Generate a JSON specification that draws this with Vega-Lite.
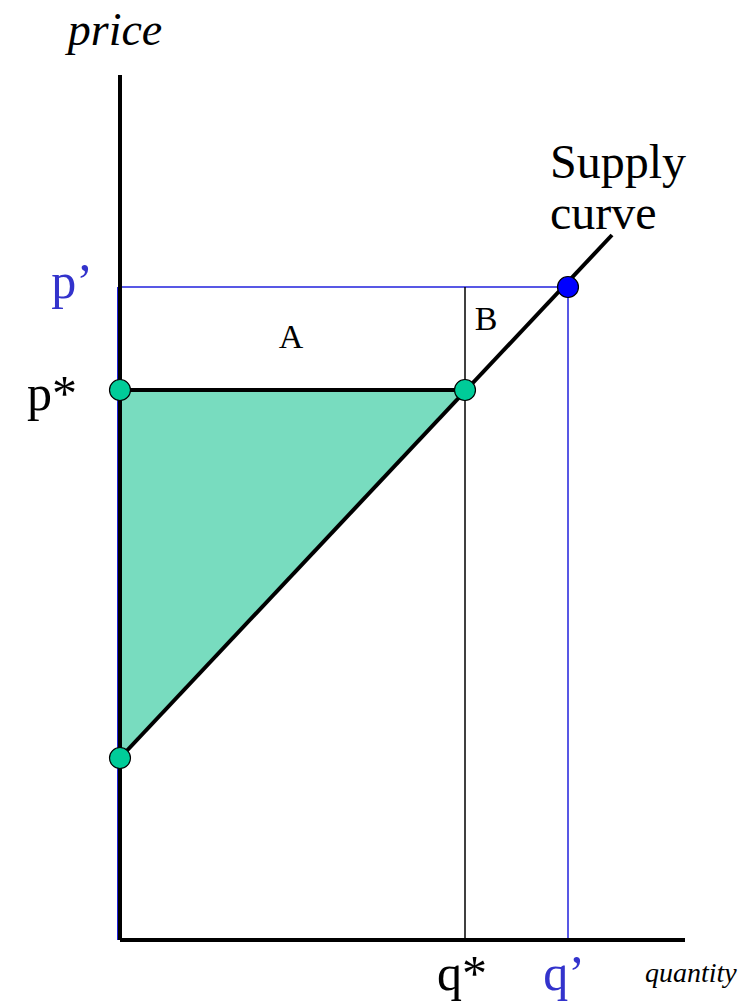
{
  "$schema": "https://vega.github.io/schema/vega-lite/v6.json",
  "autosize": "none",
  "padding": {"left": 120, "top": 75, "right": 70, "bottom": 62},
  "width": 565,
  "height": 865,
  "background": "white",
  "config": {"view": {"stroke": null}},
  "datasets": {
    "triangle": [
      {"q": 0, "top": 110, "bottom": 36.4},
      {"q": 69, "top": 110, "bottom": 110}
    ],
    "blue_lines": [
      {"q": 0, "p": 130.6, "q2": 89.6, "p2": 130.6},
      {"q": 89.6, "p": 130.6, "q2": 89.6, "p2": 0},
      {"q": -0.45, "p": 130.6, "q2": -0.45, "p2": 0}
    ],
    "thin_lines": [
      {"q": 69, "p": 130.6, "q2": 69, "p2": 0}
    ],
    "thick_lines": [
      {"q": 0, "p": 0, "q2": 0, "p2": 173},
      {"q": 0, "p": 0, "q2": 113, "p2": 0},
      {"q": 0, "p": 110, "q2": 69, "p2": 110},
      {"q": 0, "p": 36.4, "q2": 98.4, "p2": 141}
    ],
    "dots": [
      {"q": 0, "p": 110, "type": "eq"},
      {"q": 69, "p": 110, "type": "eq"},
      {"q": 0, "p": 36.4, "type": "eq"},
      {"q": 89.6, "p": 130.6, "type": "new"}
    ],
    "labels_left": [
      {"label": "Supply", "q": 86, "p": 152.4},
      {"label": "curve", "q": 86, "p": 142.2}
    ],
    "labels_center": [
      {"label": "p’", "q": -9.6, "p": 128.4, "tone": "blue"},
      {"label": "p*", "q": -13.6, "p": 106, "tone": "black"},
      {"label": "q*", "q": 68.4, "p": -10, "tone": "black"},
      {"label": "q’", "q": 88.8, "p": -10, "tone": "blue"}
    ],
    "regions": [
      {"label": "A", "q": 34.2, "p": 118.4},
      {"label": "B", "q": 73.2, "p": 122}
    ],
    "axis_price": [{"label": "price", "q": -1, "p": 179}],
    "axis_quantity": [{"label": "quantity", "q": 105, "p": -8.4}]
  },
  "layer": [
    {
      "data": {"name": "triangle"},
      "mark": {"type": "area", "fill": "#78dcbf", "opacity": 1},
      "encoding": {
        "x": {"field": "q", "type": "quantitative", "scale": {"domain": [0, 113], "nice": false, "zero": false}, "axis": null},
        "y": {"field": "top", "type": "quantitative", "scale": {"domain": [0, 173], "nice": false, "zero": false}, "axis": null},
        "y2": {"field": "bottom"}
      }
    },
    {
      "data": {"name": "blue_lines"},
      "mark": {"type": "rule", "stroke": "#2020dd", "strokeWidth": 1.5},
      "encoding": {
        "x": {"field": "q", "type": "quantitative"},
        "y": {"field": "p", "type": "quantitative"},
        "x2": {"field": "q2"},
        "y2": {"field": "p2"}
      }
    },
    {
      "data": {"name": "thin_lines"},
      "mark": {"type": "rule", "stroke": "black", "strokeWidth": 1.5},
      "encoding": {
        "x": {"field": "q", "type": "quantitative"},
        "y": {"field": "p", "type": "quantitative"},
        "x2": {"field": "q2"},
        "y2": {"field": "p2"}
      }
    },
    {
      "data": {"name": "thick_lines"},
      "mark": {"type": "rule", "stroke": "black", "strokeWidth": 4},
      "encoding": {
        "x": {"field": "q", "type": "quantitative"},
        "y": {"field": "p", "type": "quantitative"},
        "x2": {"field": "q2"},
        "y2": {"field": "p2"}
      }
    },
    {
      "data": {"name": "dots"},
      "mark": {"type": "point", "shape": "circle", "filled": true, "size": 440, "stroke": "black", "strokeWidth": 1.2, "opacity": 1},
      "encoding": {
        "x": {"field": "q", "type": "quantitative"},
        "y": {"field": "p", "type": "quantitative"},
        "fill": {"field": "type", "type": "nominal", "scale": {"domain": ["eq", "new"], "range": ["#00cc99", "#0000ff"]}, "legend": null}
      }
    },
    {
      "data": {"name": "labels_left"},
      "mark": {"type": "text", "font": "Liberation Serif", "fontSize": 48, "align": "left", "baseline": "alphabetic", "color": "black"},
      "encoding": {
        "x": {"field": "q", "type": "quantitative"},
        "y": {"field": "p", "type": "quantitative"},
        "text": {"field": "label"}
      }
    },
    {
      "data": {"name": "labels_center"},
      "mark": {"type": "text", "font": "Liberation Serif", "fontSize": 50, "align": "center", "baseline": "alphabetic"},
      "encoding": {
        "x": {"field": "q", "type": "quantitative"},
        "y": {"field": "p", "type": "quantitative"},
        "text": {"field": "label"},
        "color": {"field": "tone", "type": "nominal", "scale": {"domain": ["black", "blue"], "range": ["#000000", "#3333cc"]}, "legend": null}
      }
    },
    {
      "data": {"name": "regions"},
      "mark": {"type": "text", "font": "Liberation Serif", "fontSize": 34, "align": "center", "baseline": "alphabetic", "color": "black"},
      "encoding": {
        "x": {"field": "q", "type": "quantitative"},
        "y": {"field": "p", "type": "quantitative"},
        "text": {"field": "label"}
      }
    },
    {
      "data": {"name": "axis_price"},
      "mark": {"type": "text", "font": "Liberation Serif", "fontStyle": "italic", "fontSize": 46, "align": "center", "baseline": "alphabetic", "color": "black"},
      "encoding": {
        "x": {"field": "q", "type": "quantitative"},
        "y": {"field": "p", "type": "quantitative"},
        "text": {"field": "label"}
      }
    },
    {
      "data": {"name": "axis_quantity"},
      "mark": {"type": "text", "font": "Liberation Serif", "fontStyle": "italic", "fontSize": 28, "align": "left", "baseline": "alphabetic", "color": "black"},
      "encoding": {
        "x": {"field": "q", "type": "quantitative"},
        "y": {"field": "p", "type": "quantitative"},
        "text": {"field": "label"}
      }
    }
  ]
}
